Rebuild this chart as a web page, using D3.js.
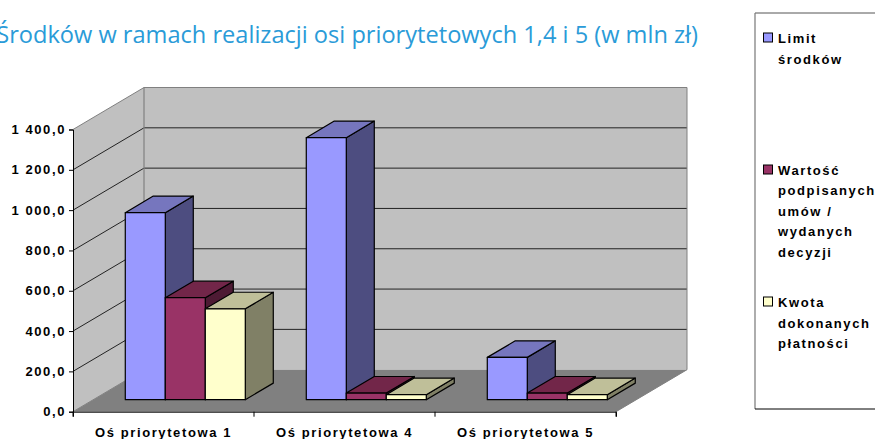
<!DOCTYPE html>
<html>
<head>
<meta charset="utf-8">
<script src="https://cdn.jsdelivr.net/npm/d3@7/dist/d3.min.js"></script>
<style>
  html, body { margin: 0; padding: 0; background: #fff; overflow: hidden; }
  text { font-family: "Liberation Sans", Arial, sans-serif; }
</style>
</head>
<body>
<div id="chart"></div>
<script>
const categories = ["Oś priorytetowa 1", "Oś priorytetowa 4", "Oś priorytetowa 5"];
const limit = [928, 1300, 210];
const umowy = [506, 33, 33];
const platnosci = [451, 25, 25];
const yTicks = [0, 200, 400, 600, 800, 1000, 1200, 1400];

const seriesNames = ["Limit", "Umowy", "Platnosci"];
const seriesValues = [limit, umowy, platnosci];
const front = ["#9999ff", "#993366", "#ffffcc"];
const top_ = ["#7676be", "#722649", "#bfbf99"];
const side = ["#4d4d80", "#4d1a33", "#808066"];

const legendLines = [
  [["Limit", 38, 0], ["środków", 59]],
  [["Wartość", 170, 1], ["podpisanych", 190], ["umów /", 211], ["wydanych", 231], ["decyzji", 252]],
  [["Kwota", 302, 2], ["dokonanych", 323], ["płatności", 343]]
];

const width = 875, height = 439;
const svg = d3.select("#chart").append("svg")
  .attr("width", width).attr("height", height);

// Oblique 3D: d is depth from 0 (front of floor) to 1 (back wall)
const depthX = 71, depthY = -42;
const px = (x, d) => x + d * depthX;
const py = (y, d) => y + d * depthY;

const y = d3.scaleLinear().domain([0, 1400]).range([411.7, 129.5]);
const x0 = d3.scaleBand().domain(categories).range([73, 616]);
const x1 = d3.scaleBand().domain(seriesNames).range([32, 152]);

const poly = pts => pts.map(p => p.join(",")).join(" ");

// Walls and floor
const xL = 73, xR = 616, y0 = y(0), yT = y(1400);
svg.append("polygon")
  .attr("points", poly([[xL, y0], [xL, yT], [px(xL, 1), py(yT, 1)], [px(xL, 1), py(y0, 1)]]))
  .attr("fill", "#c0c0c0");
svg.append("polygon")
  .attr("points", poly([[px(xL, 1), py(yT, 1)], [px(xR, 1), py(yT, 1)], [px(xR, 1), py(y0, 1)], [px(xL, 1), py(y0, 1)]]))
  .attr("fill", "#c0c0c0");
svg.append("polygon")
  .attr("points", poly([[xL, y0], [xR, y0], [px(xR, 1), py(y0, 1)], [px(xL, 1), py(y0, 1)]]))
  .attr("fill", "#808080");

// Gridlines
yTicks.slice(1, -1).forEach(t => {
  svg.append("polyline")
    .attr("points", poly([[xL, y(t)], [px(xL, 1), py(y(t), 1)], [px(xR, 1), py(y(t), 1)]]))
    .attr("fill", "none").attr("stroke", "#111").attr("stroke-width", 0.9);
});

// Wall outline
svg.append("polyline")
  .attr("points", poly([[xL, yT], [px(xL, 1), py(yT, 1)], [px(xR, 1), py(yT, 1)], [px(xR, 1), py(y0, 1)], [xR, y0]]))
  .attr("fill", "none").attr("stroke", "#808080").attr("stroke-width", 1);
svg.append("line")
  .attr("x1", px(xL, 1)).attr("y1", py(yT, 1)).attr("x2", px(xL, 1)).attr("y2", py(y0, 1))
  .attr("stroke", "#808080").attr("stroke-width", 1.2);
svg.append("line")
  .attr("x1", xL).attr("y1", y0).attr("x2", px(xL, 1)).attr("y2", py(y0, 1))
  .attr("stroke", "#808080").attr("stroke-width", 1);

// Bars
const dFront = 12 / 42, dBack = 0.68;
const zeroH = y(0);
categories.forEach((c, i) => {
  seriesValues.forEach((vals, s) => {
    const left = x0(c) + x1(seriesNames[s]);
    const right = left + x1.bandwidth();
    const yv = y(vals[i]);
    const g = svg.append("g")
      .attr("stroke", "#000").attr("stroke-width", 1.2).attr("stroke-linejoin", "round");
    // front plane is shifted so the bar's base meets the floor at dFront
    const fx = v => px(v, dFront), fy = v => py(v, dFront);
    const bx = v => px(v, dBack), by = v => py(v, dBack);
    g.append("polygon")
      .attr("points", poly([[fx(right), fy(zeroH)], [fx(right), fy(yv)], [bx(right), by(yv)], [bx(right), by(zeroH)]]))
      .attr("fill", side[s]);
    g.append("polygon")
      .attr("points", poly([[fx(left), fy(yv)], [bx(left), by(yv)], [bx(right), by(yv)], [fx(right), fy(yv)]]))
      .attr("fill", top_[s]);
    g.append("rect")
      .attr("x", fx(left)).attr("y", fy(yv))
      .attr("width", right - left).attr("height", zeroH - yv)
      .attr("fill", front[s]);
  });
});

// Axes
const labelStyle = sel => sel
  .attr("font-size", 13).attr("font-weight", "bold").attr("letter-spacing", 1.6).attr("fill", "#000");

const yAxis = d3.axisLeft(y).tickValues(yTicks).tickSize(4).tickPadding(3)
  .tickFormat(d => d3.format(",.1f")(d).replace(",", " ").replace(".", ","));
const yG = svg.append("g").attr("transform", `translate(${xL},0)`).call(yAxis);
yG.selectAll("text").call(labelStyle);
yG.selectAll("line, path").attr("stroke", "#000").attr("stroke-width", 1);

const xAxis = d3.axisBottom(x0).tickSize(5).tickPadding(11);
const xG = svg.append("g").attr("transform", `translate(0,${y0})`).call(xAxis);
xG.selectAll(".tick line").remove();
[0, 1, 2, 3].forEach(i => {
  const tx = xL + i * x0.bandwidth();
  xG.append("line").attr("x1", tx).attr("x2", tx).attr("y1", 0).attr("y2", 5)
    .attr("stroke", "#000");
});
xG.selectAll("path").attr("stroke", "#000").attr("stroke-width", 1);
xG.selectAll("text").call(labelStyle);

// Title, the start of it is cut off by the page edge in the original
svg.append("text")
  .attr("x", 698).attr("y", 43).attr("text-anchor", "end")
  .style("font-family", "'Open Sans', sans-serif")
  .attr("font-size", 23.6).attr("fill", "#2a9bd8")
  .text("Środków w ramach realizacji osi priorytetowych 1,4 i 5 (w mln zł)");

// Legend
svg.append("line").attr("x1", 755).attr("y1", 13).attr("x2", 875).attr("y2", 13)
  .attr("stroke", "#555");
svg.append("line").attr("x1", 755).attr("y1", 13).attr("x2", 755).attr("y2", 409)
  .attr("stroke", "#777").attr("stroke-width", 1.2);
svg.append("line").attr("x1", 755).attr("y1", 409).attr("x2", 875).attr("y2", 409)
  .attr("stroke", "#000");

legendLines.flat().forEach(([txt, ly, s]) => {
  if (s !== undefined) {
    svg.append("rect").attr("x", 763.5).attr("y", ly - 5).attr("width", 9).attr("height", 9)
      .attr("fill", front[s]).attr("stroke", "#000").attr("stroke-width", 1);
  }
  svg.append("text").attr("x", 778).attr("y", ly + 5)
    .call(labelStyle).text(txt);
});
</script>
</body>
</html>
